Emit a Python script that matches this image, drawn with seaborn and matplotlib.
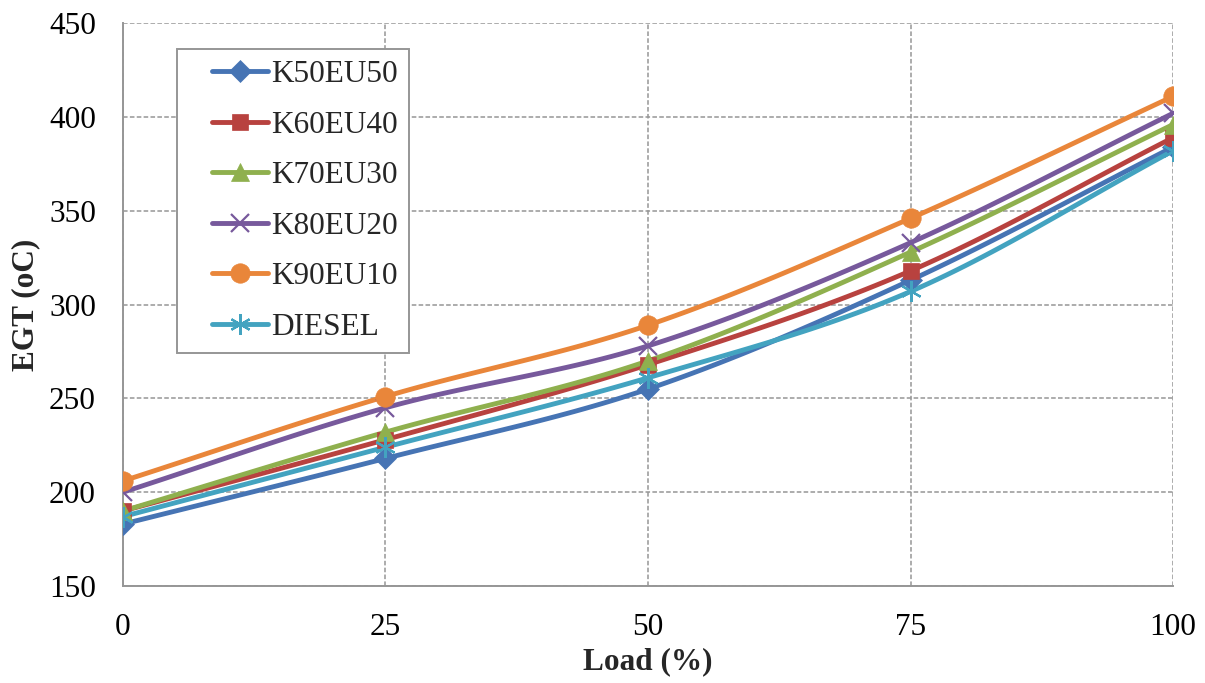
import numpy as np
import pandas as pd
import matplotlib
matplotlib.use("Agg")
import matplotlib.pyplot as plt
from matplotlib.legend_handler import HandlerLine2D
import seaborn as sns

load = [0, 25, 50, 75, 100]
k50eu50 = [183, 218, 255, 313, 384]
k60eu40 = [190, 228, 268, 318, 389]
k70eu30 = [190, 232, 270, 328, 396]
k80eu20 = [200, 245, 278, 333, 402]
k90eu10 = [206, 251, 289, 346, 411]
diesel = [187, 224, 261, 307, 382]

series_names = ["K50EU50", "K60EU40", "K70EU30", "K80EU20", "K90EU10", "DIESEL"]
series_vals = [k50eu50, k60eu40, k70eu30, k80eu20, k90eu10, diesel]
colors = ["#4674B4", "#B8423F", "#8FB04E", "#77599C", "#E9863A", "#43A3C0"]
markers = ["D", "s", "^", "x", "o", (6, 2, 0)]
msizes = [11, 12, 13, 13, 14, 15]

sns.set_theme(style="white")
plt.rcParams["font.family"] = ["Liberation Serif", "DejaVu Serif"]

FS = 22.5
GRAY = "#969696"

rows = []
for n, v in zip(series_names, series_vals):
    for x, y in zip(load, v):
        rows.append({"Load": x, "EGT": y, "Series": n})
df = pd.DataFrame(rows)


def smooth(xs, ys, n=30):
    xs = np.asarray(xs, float)
    ys = np.asarray(ys, float)
    P = np.column_stack([xs, ys])
    P = np.vstack([2 * P[0] - P[1], P, 2 * P[-1] - P[-2]])
    out = []
    for i in range(1, len(P) - 2):
        p0, p1, p2, p3 = P[i - 1], P[i], P[i + 1], P[i + 2]
        t = np.linspace(0, 1, n)[:, None]
        c = 0.5 * ((2 * p1) + (-p0 + p2) * t + (2 * p0 - 5 * p1 + 4 * p2 - p3) * t ** 2
                   + (-p0 + 3 * p1 - 3 * p2 + p3) * t ** 3)
        out.append(c)
    c = np.vstack(out)
    return c[:, 0], c[:, 1]


fig = plt.figure(figsize=(12.05, 6.83), dpi=100)
ax = fig.add_axes([0.102, 0.142, 0.8715, 0.824])

handles = []
for n, col, m, ms in zip(series_names, colors, markers, msizes):
    sub = df[df["Series"] == n]
    mew = 1.6 if (m == "x" or isinstance(m, tuple)) else 0.5
    sx, sy = smooth(sub["Load"], sub["EGT"])
    ax.plot(sx, sy, color=col, lw=3.5, solid_capstyle="round", zorder=2)
    sns.lineplot(data=sub, x="Load", y="EGT", ax=ax, color=col, lw=0,
                 marker=m, markersize=ms, markeredgecolor=col, markeredgewidth=mew,
                 legend=False, zorder=3)
    h, = ax.plot([], [], color=col, lw=3.5, marker=m, markersize=ms,
                 markeredgecolor=col, markeredgewidth=mew,
                 solid_capstyle="round", label=n)
    handles.append(h)

ax.set_xlim(0, 100)
ax.set_ylim(150, 450)
ax.set_xticks(load)
ax.set_yticks(np.arange(150, 451, 50))
ax.grid(True, color=GRAY, linestyle=(0, (3, 1.5)), lw=1.1)
ax.set_axisbelow(True)
for s in ["top", "right"]:
    ax.spines[s].set_visible(False)
for s in ["left", "bottom"]:
    ax.spines[s].set_color(GRAY)
    ax.spines[s].set_linewidth(1.4)
ax.tick_params(axis="y", which="major", labelsize=FS, colors="black",
               direction="inout", length=11, color=GRAY, width=1.4, pad=14)
ax.tick_params(axis="x", which="major", labelsize=FS, colors="black",
               direction="inout", length=11, color=GRAY, width=1.4, pad=14)
ax.set_xlabel("Load (%)", fontsize=FS, fontweight="bold", labelpad=4)
ax.set_ylabel("EGT (oC)", fontsize=FS, fontweight="bold", labelpad=6)

hmap = {h: HandlerLine2D(xpad=0.77) for h in handles}
leg = ax.legend(handles=handles, loc="upper left", bbox_to_anchor=(0.0514, 0.954),
                fontsize=FS, frameon=True, fancybox=False, handlelength=2.55,
                labelspacing=0.69, borderpad=0.35, handletextpad=0.12,
                borderaxespad=0, handler_map=hmap)
leg.get_frame().set_edgecolor(GRAY)
leg.get_frame().set_linewidth(1.4)
leg.get_frame().set_alpha(1)

fig.savefig("out.png", dpi=100)
